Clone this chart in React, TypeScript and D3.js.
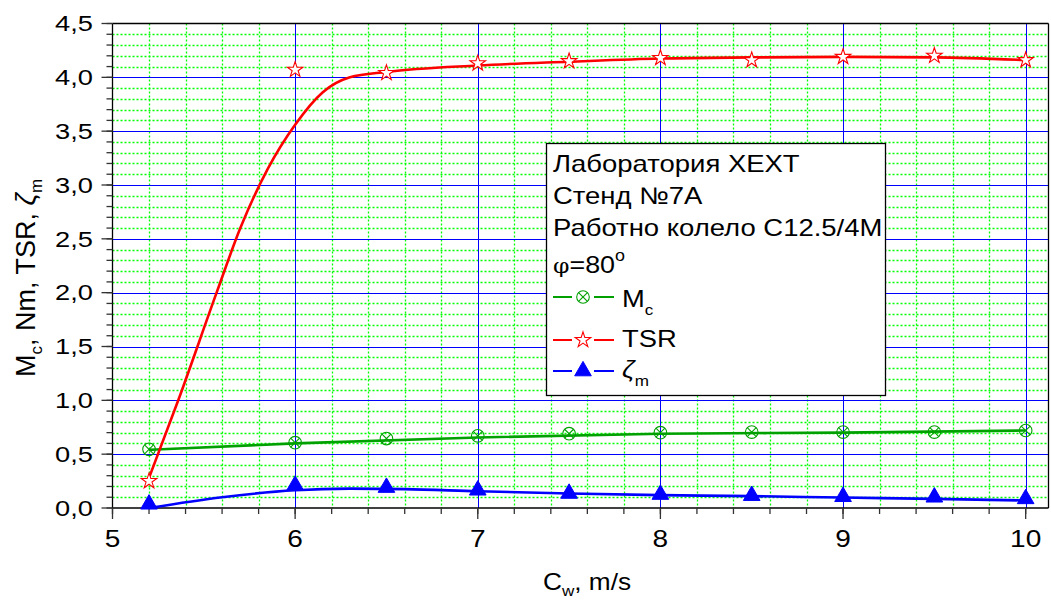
import React from "react";
import * as d3 from "d3";

// measured points
const cw = [5.2, 6, 6.5, 7, 7.5, 8, 8.5, 9, 9.5, 10];
const mcPoints = [0.545, 0.607, 0.645, 0.67, 0.69, 0.70, 0.705, 0.705, 0.705, 0.72];
const tsrPoints = [0.25, 4.07, 4.04, 4.13, 4.15, 4.18, 4.16, 4.19, 4.2, 4.16];
const zetaPoints = [0.035, 0.21, 0.19, 0.165, 0.135, 0.125, 0.115, 0.105, 0.1, 0.085];

// fitted curves
const mcFitX = [5.2, 6, 7, 8, 9, 10];
const mcFit = [0.54, 0.6, 0.655, 0.69, 0.70, 0.72];
const tsrFitX = [5.2, 5.36, 5.57, 5.7, 5.85, 6.0, 6.15, 6.3, 6.5, 7, 7.5, 8, 8.5, 9, 9.5, 10];
const tsrFit = [0.28, 1.0, 2.0, 2.6, 3.15, 3.56, 3.86, 4.0, 4.05, 4.11, 4.145, 4.175, 4.185, 4.19, 4.185, 4.16];
const zetaFitX = [5.2, 5.6, 6, 6.3, 6.6, 7, 7.5, 8, 8.5, 9, 9.5, 10];
const zetaFit = [0.0, 0.1, 0.165, 0.18, 0.175, 0.155, 0.135, 0.12, 0.11, 0.097, 0.085, 0.07];

const xTicks = [5, 6, 7, 8, 9, 10];
const yTicks = [0, 0.5, 1, 1.5, 2, 2.5, 3, 3.5, 4, 4.5];
const legendTitle = ["Лаборатория ХЕХТ", "Стенд №7А", "Работно колело С12.5/4М"];

const W = 1051;
const H = 601;
const left = 112.5;
const right = 1048.5;
const top = 23.5;
const bottom = 508;

const GREEN = "#00a000";
const RED = "#ff0000";
const BLUE = "#0000ff";
const GRID = "#00ff00";
const FONT = "'Liberation Sans', Arial, sans-serif";

const x = d3.scaleLinear().domain([5, 10.125]).range([left, right]);
const y = d3.scaleLinear().domain([0, 4.5]).range([bottom, top]);

const line = d3
  .line<[number, number]>()
  .x(d => x(d[0]))
  .y(d => y(d[1]))
  .curve(d3.curveMonotoneX);

const starPath = d3.symbol(d3.symbolStar, 75)() as string;
const triPath = d3.symbol(d3.symbolTriangle, 120)() as string;

function CircleX({ cx, cy }: { cx: number; cy: number }) {
  const r = 6.3;
  const k = r * 0.707;
  return (
    <g transform={`translate(${cx},${cy})`} stroke={GREEN} strokeWidth={1.1} fill="none">
      <circle r={r} />
      <line x1={-k} y1={-k} x2={k} y2={k} />
      <line x1={-k} y1={k} x2={k} y2={-k} />
    </g>
  );
}

function Star({ cx, cy }: { cx: number; cy: number }) {
  return (
    <path d={starPath} transform={`translate(${cx},${cy})`} fill="#fff" stroke={RED} strokeWidth={1.1} />
  );
}

function Tri({ cx, cy }: { cx: number; cy: number }) {
  return <path d={triPath} transform={`translate(${cx},${cy})`} fill={BLUE} stroke={BLUE} />;
}

// the reference glyphs are wider than Arial at the same height
function T(props: { x: number; y: number; sx: number; size: number; anchor?: string; children: React.ReactNode }) {
  return (
    <text
      transform={`translate(${props.x},${props.y}) scale(${props.sx},1)`}
      fontSize={props.size}
      textAnchor={props.anchor || "start"}
      fill="#000"
    >
      {props.children}
    </text>
  );
}

export default function App() {
  const minorX = d3.range(5.2, 10.13, 0.2).filter(v => Math.abs(v - Math.round(v)) > 0.01);
  const minorY = d3.range(0.1, 4.5, 0.1).filter(v => Math.abs(v * 2 - Math.round(v * 2)) > 0.01);
  const minorXTicks = d3.range(5, 10.13, 0.2);
  const minorYTicks = d3.range(0, 4.51, 0.1);
  const fmt = (v: number) => d3.format(".1f")(v).replace(".", ",");

  const zip = (xs: number[], ys: number[]) => xs.map((v, i) => [v, ys[i]] as [number, number]);

  // legend geometry
  const lgX = 546.5;
  const lgY = 143.5;
  const lgW = 339;
  const lgH = 252;
  const tx = 553;
  const rows = [172, 204, 235.5];
  const seriesRows = [
    { yb: 307, ly: 297, label: "M", sub: "c", color: GREEN, m: "cx" },
    { yb: 347, ly: 340, label: "TSR", sub: "", color: RED, m: "star" },
    { yb: 378, ly: 371, label: "ζ", sub: "m", color: BLUE, m: "tri" },
  ];

  return (
    <svg
      width={W}
      height={H}
      style={{ position: "absolute", left: 0, top: 0, background: "#fff" }}
      fontFamily={FONT}
    >
      <rect width={W} height={H} fill="#fff" />

      {/* minor grid */}
      <g stroke={GRID} strokeWidth={1.3} strokeDasharray="2,2">
        {minorX.map(v => (
          <line key={"mx" + v} x1={Math.round(x(v)) + 0.5} x2={Math.round(x(v)) + 0.5} y1={top} y2={bottom} />
        ))}
        {minorY.map(v => (
          <line key={"my" + v} x1={left} x2={right} y1={Math.round(y(v)) + 0.5} y2={Math.round(y(v)) + 0.5} />
        ))}
      </g>

      {/* major grid */}
      <g stroke={BLUE} strokeWidth={1}>
        {xTicks.slice(1).map(v => (
          <line key={"gx" + v} x1={Math.round(x(v)) + 0.5} x2={Math.round(x(v)) + 0.5} y1={top} y2={bottom} />
        ))}
        {yTicks.slice(1, -1).map(v => (
          <line key={"gy" + v} x1={left} x2={right} y1={Math.round(y(v)) + 0.5} y2={Math.round(y(v)) + 0.5} />
        ))}
      </g>

      {/* frame and axes */}
      <g stroke="#000" strokeWidth={1.3} fill="none">
        <line x1={left} x2={right} y1={top} y2={top} />
        <line x1={right} x2={right} y1={top} y2={bottom} />
        <line x1={left} x2={left} y1={top} y2={bottom} />
        <line x1={left} x2={right} y1={bottom} y2={bottom} />
      </g>

      {/* ticks */}
      <g stroke="#333" strokeWidth={1.3}>
        {minorXTicks.map(v => (
          <line key={"tx" + v} x1={x(v)} x2={x(v)} y1={bottom} y2={bottom + 6} />
        ))}
        {xTicks.map(v => (
          <line key={"TX" + v} x1={x(v)} x2={x(v)} y1={bottom} y2={bottom + 11} />
        ))}
        {minorYTicks.map(v => (
          <line key={"ty" + v} x1={left - 6} x2={left} y1={y(v)} y2={y(v)} />
        ))}
        {yTicks.map(v => (
          <line key={"TY" + v} x1={left - 11} x2={left} y1={y(v)} y2={y(v)} />
        ))}
      </g>

      {/* tick labels */}
      {xTicks.map(v => (
        <T key={"lx" + v} x={x(v)} y={547} sx={1.22} size={23} anchor="middle">
          {v}
        </T>
      ))}
      {yTicks.map(v => (
        <T key={"ly" + v} x={93} y={y(v) + 7.8} sx={1.24} size={22} anchor="end">
          {fmt(v)}
        </T>
      ))}

      {/* axis titles */}
      <T x={543} y={590} sx={1.14} size={23}>
        C<tspan fontSize={15} dy={6}>w</tspan>
        <tspan dy={-6}>, m/s</tspan>
      </T>
      <text transform="translate(35,377) rotate(-90)" fontSize={27} fill="#000">
        M<tspan fontSize={17} dy={7}>c</tspan>
        <tspan dy={-7}>, Nm, TSR, </tspan>
        <tspan fontStyle="italic">ζ</tspan>
        <tspan fontSize={17} dy={7}>m</tspan>
      </text>

      {/* fitted curves */}
      <g fill="none" strokeWidth={2.6}>
        <path d={line(zip(mcFitX, mcFit)) as string} stroke={GREEN} />
        <path d={line(zip(zetaFitX, zetaFit)) as string} stroke={BLUE} />
        <path d={line(zip(tsrFitX, tsrFit)) as string} stroke={RED} />
      </g>

      {/* markers */}
      {cw.map((v, i) => (
        <CircleX key={"m" + i} cx={x(v)} cy={y(mcPoints[i])} />
      ))}
      {cw.map((v, i) => (
        <Tri key={"z" + i} cx={x(v)} cy={y(zetaPoints[i])} />
      ))}
      {cw.map((v, i) => (
        <Star key={"s" + i} cx={x(v)} cy={y(tsrPoints[i])} />
      ))}

      {/* legend */}
      <rect x={lgX} y={lgY} width={lgW} height={lgH} fill="#fff" stroke="#000" strokeWidth={1.3} />
      {legendTitle.map((t, i) => (
        <T key={t} x={tx} y={rows[i]} sx={1.145} size={24}>
          {t}
        </T>
      ))}
      <T x={tx} y={273} sx={1.12} size={24}>
        <tspan fontFamily="'DejaVu Serif', serif" fontSize={21}>φ</tspan>
        <tspan>=80</tspan>
        <tspan fontSize={16} dy={-12}>o</tspan>
      </T>
      {seriesRows.map(r => (
        <g key={r.label}>
          <line x1={tx} x2={572} y1={r.ly} y2={r.ly} stroke={r.color} strokeWidth={2} />
          <line x1={594} x2={614} y1={r.ly} y2={r.ly} stroke={r.color} strokeWidth={2} />
          {r.m === "cx" && <CircleX cx={583} cy={r.ly} />}
          {r.m === "star" && <Star cx={583} cy={r.ly} />}
          {r.m === "tri" && <Tri cx={583} cy={r.ly} />}
          <T x={622} y={r.yb} sx={1.14} size={24}>
            {r.m === "tri" ? <tspan fontStyle="italic">{r.label}</tspan> : r.label}
            {r.sub && (
              <tspan fontSize={15} dy={8}>
                {r.sub}
              </tspan>
            )}
          </T>
        </g>
      ))}
    </svg>
  );
}
